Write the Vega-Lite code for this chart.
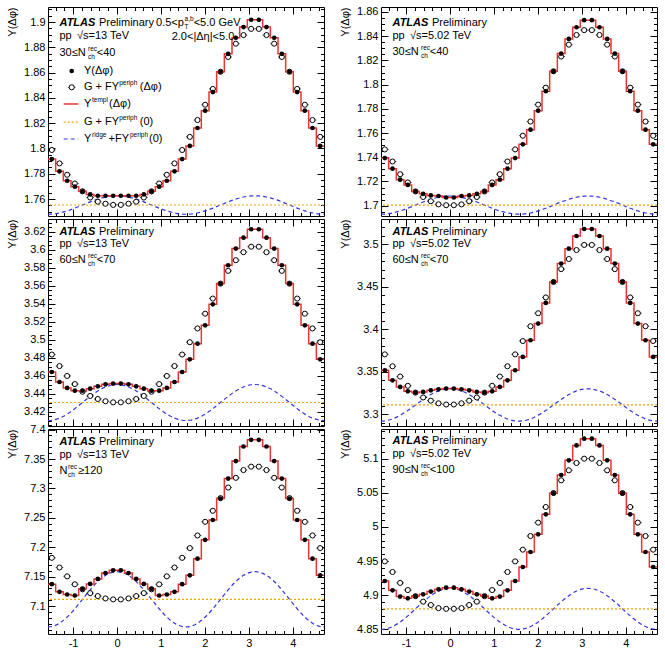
{
"$schema":"https://vega.github.io/schema/vega-lite/v6.json",
"padding":{"left":5,"top":2,"right":5,"bottom":5},
"background":"white",
"config":{"view":{"stroke":"black","strokeWidth":1},
"axis":{"domain":false,"grid":false,"ticks":true,"tickColor":"black","tickWidth":1,"tickSize":7,"tickOpacity":1,"offset":-7,"tickCount":200,"labelColor":"black","labelFont":"Liberation Sans","labelFontSize":11,"titleFont":"Liberation Sans","titleFontSize":11,"titleFontWeight":"normal","titleColor":"black","labelOverlap":false,"labelFlush":false,"labelBound":false,"labelPadding":3},
"text":{"font":"Liberation Sans","fontSize":11,"color":"black"}},
"datasets":{
"TL":[{"x":-1.5708,"y":1.7916,"r":1.748},{"x":-1.4835,"y":1.7916,"g":1.7988,"r":1.7481},{"x":-1.309,"y":1.7819,"g":1.7882,"r":1.749},{"x":-1.1345,"y":1.7745,"g":1.7792,"r":1.7506},{"x":-0.9599,"y":1.7698,"g":1.7723,"r":1.7528},{"x":-0.7854,"y":1.7661,"g":1.7661,"r":1.7553},{"x":-0.6109,"y":1.7637,"g":1.7612,"r":1.7578},{"x":-0.4363,"y":1.7626,"g":1.7579,"r":1.76},{"x":-0.2618,"y":1.7626,"g":1.7563,"r":1.7616},{"x":-0.0873,"y":1.7626,"g":1.7554,"r":1.7625},{"x":0,"r":1.7626},{"x":0.0873,"y":1.7626,"g":1.7554,"r":1.7625},{"x":0.2618,"y":1.7626,"g":1.7563,"r":1.7616},{"x":0.4363,"y":1.7626,"g":1.7579,"r":1.76},{"x":0.6109,"y":1.7637,"g":1.7612,"r":1.7578},{"x":0.7854,"y":1.7661,"g":1.7661,"r":1.7553},{"x":0.9599,"y":1.7698,"g":1.7723,"r":1.7528},{"x":1.1345,"y":1.7745,"g":1.7792,"r":1.7506},{"x":1.309,"y":1.7819,"g":1.7882,"r":1.749},{"x":1.4835,"y":1.7916,"g":1.7988,"r":1.7481},{"x":1.5708,"r":1.748},{"x":1.6581,"y":1.802,"g":1.8092,"r":1.7481},{"x":1.8326,"y":1.8162,"g":1.8225,"r":1.749},{"x":2.0071,"y":1.8299,"g":1.8346,"r":1.7506},{"x":2.1817,"y":1.8446,"g":1.8471,"r":1.7528},{"x":2.3562,"y":1.8607,"g":1.8607,"r":1.7553},{"x":2.5307,"y":1.8749,"g":1.8724,"r":1.7578},{"x":2.7053,"y":1.8876,"g":1.8829,"r":1.76},{"x":2.8798,"y":1.896,"g":1.8897,"r":1.7616},{"x":3.0543,"y":1.9018,"g":1.8946,"r":1.7625},{"x":3.1416,"r":1.7626},{"x":3.2289,"y":1.9018,"g":1.8946,"r":1.7625},{"x":3.4034,"y":1.896,"g":1.8897,"r":1.7616},{"x":3.5779,"y":1.8876,"g":1.8829,"r":1.76},{"x":3.7525,"y":1.8749,"g":1.8724,"r":1.7578},{"x":3.927,"y":1.8607,"g":1.8607,"r":1.7553},{"x":4.1015,"y":1.8446,"g":1.8471,"r":1.7528},{"x":4.2761,"y":1.8299,"g":1.8346,"r":1.7506},{"x":4.4506,"y":1.8162,"g":1.8225,"r":1.749},{"x":4.6251,"y":1.802,"g":1.8092,"r":1.7481},{"x":4.7124,"y":1.802,"r":1.748}],
"TR":[{"x":-1.5708,"y":1.7393,"r":1.693},{"x":-1.4835,"y":1.7393,"g":1.7465,"r":1.6931},{"x":-1.309,"y":1.7306,"g":1.7365,"r":1.694},{"x":-1.1345,"y":1.7215,"g":1.726,"r":1.6957},{"x":-0.9599,"y":1.7172,"g":1.7192,"r":1.6979},{"x":-0.7854,"y":1.7118,"g":1.7118,"r":1.7005},{"x":-0.6109,"y":1.7098,"g":1.7072,"r":1.7031},{"x":-0.4363,"y":1.7085,"g":1.7037,"r":1.7053},{"x":-0.2618,"y":1.708,"g":1.7011,"r":1.707},{"x":-0.0873,"y":1.7068,"g":1.7004,"r":1.7079},{"x":0,"r":1.708},{"x":0.0873,"y":1.7068,"g":1.7004,"r":1.7079},{"x":0.2618,"y":1.708,"g":1.7011,"r":1.707},{"x":0.4363,"y":1.7085,"g":1.7037,"r":1.7053},{"x":0.6109,"y":1.7098,"g":1.7072,"r":1.7031},{"x":0.7854,"y":1.7118,"g":1.7118,"r":1.7005},{"x":0.9599,"y":1.7172,"g":1.7192,"r":1.6979},{"x":1.1345,"y":1.7215,"g":1.726,"r":1.6957},{"x":1.309,"y":1.7306,"g":1.7365,"r":1.694},{"x":1.4835,"y":1.7393,"g":1.7465,"r":1.6931},{"x":1.5708,"r":1.693},{"x":1.6581,"y":1.7507,"g":1.7578,"r":1.6931},{"x":1.8326,"y":1.7628,"g":1.7695,"r":1.694},{"x":2.0071,"y":1.7785,"g":1.7835,"r":1.6957},{"x":2.1817,"y":1.7945,"g":1.7975,"r":1.6979},{"x":2.3562,"y":1.811,"g":1.811,"r":1.7005},{"x":2.5307,"y":1.8256,"g":1.8232,"r":1.7031},{"x":2.7053,"y":1.8377,"g":1.833,"r":1.7053},{"x":2.8798,"y":1.8474,"g":1.841,"r":1.707},{"x":3.0543,"y":1.8532,"g":1.845,"r":1.7079},{"x":3.1416,"r":1.708},{"x":3.2289,"y":1.8532,"g":1.845,"r":1.7079},{"x":3.4034,"y":1.8474,"g":1.841,"r":1.707},{"x":3.5779,"y":1.8377,"g":1.833,"r":1.7053},{"x":3.7525,"y":1.8256,"g":1.8232,"r":1.7031},{"x":3.927,"y":1.811,"g":1.811,"r":1.7005},{"x":4.1015,"y":1.7945,"g":1.7975,"r":1.6979},{"x":4.2761,"y":1.7785,"g":1.7835,"r":1.6957},{"x":4.4506,"y":1.7628,"g":1.7695,"r":1.694},{"x":4.6251,"y":1.7507,"g":1.7578,"r":1.6931},{"x":4.7124,"y":1.7507,"r":1.693}],
"ML":[{"x":-1.5708,"y":3.4644,"r":3.4105},{"x":-1.4835,"y":3.4644,"g":3.4838,"r":3.4108},{"x":-1.309,"y":3.4533,"g":3.471,"r":3.4132},{"x":-1.1345,"y":3.4467,"g":3.46,"r":3.4176},{"x":-0.9599,"y":3.4437,"g":3.451,"r":3.4237},{"x":-0.7854,"y":3.4437,"g":3.4425,"r":3.4305},{"x":-0.6109,"y":3.4459,"g":3.4378,"r":3.4373},{"x":-0.4363,"y":3.4485,"g":3.4344,"r":3.4434},{"x":-0.2618,"y":3.4507,"g":3.4319,"r":3.4478},{"x":-0.0873,"y":3.4515,"g":3.4307,"r":3.4502},{"x":0,"r":3.4505},{"x":0.0873,"y":3.4515,"g":3.4307,"r":3.4502},{"x":0.2618,"y":3.4507,"g":3.4319,"r":3.4478},{"x":0.4363,"y":3.4485,"g":3.4344,"r":3.4434},{"x":0.6109,"y":3.4459,"g":3.4378,"r":3.4373},{"x":0.7854,"y":3.4437,"g":3.4425,"r":3.4305},{"x":0.9599,"y":3.4437,"g":3.451,"r":3.4237},{"x":1.1345,"y":3.4467,"g":3.46,"r":3.4176},{"x":1.309,"y":3.4533,"g":3.471,"r":3.4132},{"x":1.4835,"y":3.4644,"g":3.4838,"r":3.4108},{"x":1.5708,"r":3.4105},{"x":1.6581,"y":3.4785,"g":3.4975,"r":3.4108},{"x":1.8326,"y":3.4959,"g":3.5128,"r":3.4132},{"x":2.0071,"y":3.5163,"g":3.5292,"r":3.4176},{"x":2.1817,"y":3.5396,"g":3.546,"r":3.4237},{"x":2.3562,"y":3.5626,"g":3.5626,"r":3.4305},{"x":2.5307,"y":3.583,"g":3.5768,"r":3.4373},{"x":2.7053,"y":3.6015,"g":3.5886,"r":3.4434},{"x":2.8798,"y":3.6137,"g":3.5975,"r":3.4478},{"x":3.0543,"y":3.623,"g":3.6036,"r":3.4502},{"x":3.1416,"r":3.4505},{"x":3.2289,"y":3.623,"g":3.6036,"r":3.4502},{"x":3.4034,"y":3.6137,"g":3.5975,"r":3.4478},{"x":3.5779,"y":3.6015,"g":3.5886,"r":3.4434},{"x":3.7525,"y":3.583,"g":3.5768,"r":3.4373},{"x":3.927,"y":3.5626,"g":3.5626,"r":3.4305},{"x":4.1015,"y":3.5396,"g":3.546,"r":3.4237},{"x":4.2761,"y":3.5163,"g":3.5292,"r":3.4176},{"x":4.4506,"y":3.4959,"g":3.5128,"r":3.4132},{"x":4.6251,"y":3.4785,"g":3.4975,"r":3.4108},{"x":4.7124,"y":3.4785,"r":3.4105}],
"MR":[{"x":-1.5708,"y":3.3518,"r":3.292},{"x":-1.4835,"y":3.3518,"g":3.3705,"r":3.2923},{"x":-1.309,"y":3.34,"g":3.3565,"r":3.2945},{"x":-1.1345,"y":3.3322,"g":3.3444,"r":3.2988},{"x":-0.9599,"y":3.327,"g":3.3335,"r":3.3045},{"x":-0.7854,"y":3.3255,"g":3.3255,"r":3.311},{"x":-0.6109,"y":3.3263,"g":3.3198,"r":3.3175},{"x":-0.4363,"y":3.3282,"g":3.316,"r":3.3232},{"x":-0.2618,"y":3.3294,"g":3.3129,"r":3.3275},{"x":-0.0873,"y":3.3302,"g":3.3115,"r":3.3297},{"x":0,"r":3.33},{"x":0.0873,"y":3.3302,"g":3.3115,"r":3.3297},{"x":0.2618,"y":3.3294,"g":3.3129,"r":3.3275},{"x":0.4363,"y":3.3282,"g":3.316,"r":3.3232},{"x":0.6109,"y":3.3263,"g":3.3198,"r":3.3175},{"x":0.7854,"y":3.3255,"g":3.3255,"r":3.311},{"x":0.9599,"y":3.327,"g":3.3335,"r":3.3045},{"x":1.1345,"y":3.3322,"g":3.3444,"r":3.2988},{"x":1.309,"y":3.34,"g":3.3565,"r":3.2945},{"x":1.4835,"y":3.3518,"g":3.3705,"r":3.2923},{"x":1.5708,"r":3.292},{"x":1.6581,"y":3.3675,"g":3.3862,"r":3.2923},{"x":1.8326,"y":3.3871,"g":3.4036,"r":3.2945},{"x":2.0071,"y":3.4067,"g":3.4189,"r":3.2988},{"x":2.1817,"y":3.431,"g":3.4375,"r":3.3045},{"x":2.3562,"y":3.4557,"g":3.4557,"r":3.311},{"x":2.5307,"y":3.4773,"g":3.4708,"r":3.3175},{"x":2.7053,"y":3.4949,"g":3.4827,"r":3.3232},{"x":2.8798,"y":3.5098,"g":3.4933,"r":3.3275},{"x":3.0543,"y":3.518,"g":3.4993,"r":3.3297},{"x":3.1416,"r":3.33},{"x":3.2289,"y":3.518,"g":3.4993,"r":3.3297},{"x":3.4034,"y":3.5098,"g":3.4933,"r":3.3275},{"x":3.5779,"y":3.4949,"g":3.4827,"r":3.3232},{"x":3.7525,"y":3.4773,"g":3.4708,"r":3.3175},{"x":3.927,"y":3.4557,"g":3.4557,"r":3.311},{"x":4.1015,"y":3.431,"g":3.4375,"r":3.3045},{"x":4.2761,"y":3.4067,"g":3.4189,"r":3.2988},{"x":4.4506,"y":3.3871,"g":3.4036,"r":3.2945},{"x":4.6251,"y":3.3675,"g":3.3862,"r":3.2923},{"x":4.7124,"y":3.3675,"r":3.292}],
"BL":[{"x":-1.5708,"y":7.1372,"r":7.0645},{"x":-1.4835,"y":7.1372,"g":7.182,"r":7.0652},{"x":-1.309,"y":7.1242,"g":7.1655,"r":7.0708},{"x":-1.1345,"y":7.1197,"g":7.1505,"r":7.0813},{"x":-0.9599,"y":7.118,"g":7.137,"r":7.0954},{"x":-0.7854,"y":7.1293,"g":7.1285,"r":7.1115},{"x":-0.6109,"y":7.1377,"g":7.122,"r":7.1276},{"x":-0.4363,"y":7.1462,"g":7.117,"r":7.1417},{"x":-0.2618,"y":7.156,"g":7.113,"r":7.1522},{"x":-0.0873,"y":7.1608,"g":7.1113,"r":7.1578},{"x":0,"r":7.1585},{"x":0.0873,"y":7.1608,"g":7.1113,"r":7.1578},{"x":0.2618,"y":7.156,"g":7.113,"r":7.1522},{"x":0.4363,"y":7.1462,"g":7.117,"r":7.1417},{"x":0.6109,"y":7.1377,"g":7.122,"r":7.1276},{"x":0.7854,"y":7.1293,"g":7.1285,"r":7.1115},{"x":0.9599,"y":7.118,"g":7.137,"r":7.0954},{"x":1.1345,"y":7.1197,"g":7.1505,"r":7.0813},{"x":1.309,"y":7.1242,"g":7.1655,"r":7.0708},{"x":1.4835,"y":7.1372,"g":7.182,"r":7.0652},{"x":1.5708,"r":7.0645},{"x":1.6581,"y":7.1523,"g":7.1985,"r":7.0652},{"x":1.8326,"y":7.1805,"g":7.22,"r":7.0708},{"x":2.0071,"y":7.2126,"g":7.2432,"r":7.0813},{"x":2.1817,"y":7.2463,"g":7.262,"r":7.0954},{"x":2.3562,"y":7.2829,"g":7.2835,"r":7.1115},{"x":2.5307,"y":7.3167,"g":7.3015,"r":7.1276},{"x":2.7053,"y":7.3465,"g":7.318,"r":7.1417},{"x":2.8798,"y":7.3713,"g":7.3312,"r":7.1522},{"x":3.0543,"y":7.3826,"g":7.337,"r":7.1578},{"x":3.1416,"r":7.1585},{"x":3.2289,"y":7.3826,"g":7.337,"r":7.1578},{"x":3.4034,"y":7.3713,"g":7.3312,"r":7.1522},{"x":3.5779,"y":7.3465,"g":7.318,"r":7.1417},{"x":3.7525,"y":7.3167,"g":7.3015,"r":7.1276},{"x":3.927,"y":7.2829,"g":7.2835,"r":7.1115},{"x":4.1015,"y":7.2463,"g":7.262,"r":7.0954},{"x":4.2761,"y":7.2126,"g":7.2432,"r":7.0813},{"x":4.4506,"y":7.1805,"g":7.22,"r":7.0708},{"x":4.6251,"y":7.1523,"g":7.1985,"r":7.0652},{"x":4.7124,"y":7.1523,"r":7.0645}],
"BR":[{"x":-1.5708,"y":4.9208,"r":4.85},{"x":-1.4835,"y":4.9208,"g":4.9495,"r":4.8504},{"x":-1.309,"y":4.9071,"g":4.934,"r":4.854},{"x":-1.1345,"y":4.8979,"g":4.918,"r":4.8607},{"x":-0.9599,"y":4.8954,"g":4.9075,"r":4.8697},{"x":-0.7854,"y":4.8988,"g":4.8985,"r":4.88},{"x":-0.6109,"y":4.9013,"g":4.8905,"r":4.8903},{"x":-0.4363,"y":4.9052,"g":4.8856,"r":4.8993},{"x":-0.2618,"y":4.9086,"g":4.881,"r":4.906},{"x":-0.0873,"y":4.911,"g":4.88,"r":4.9096},{"x":0,"r":4.91},{"x":0.0873,"y":4.911,"g":4.88,"r":4.9096},{"x":0.2618,"y":4.9086,"g":4.881,"r":4.906},{"x":0.4363,"y":4.9052,"g":4.8856,"r":4.8993},{"x":0.6109,"y":4.9013,"g":4.8905,"r":4.8903},{"x":0.7854,"y":4.8988,"g":4.8985,"r":4.88},{"x":0.9599,"y":4.8954,"g":4.9075,"r":4.8697},{"x":1.1345,"y":4.8979,"g":4.918,"r":4.8607},{"x":1.309,"y":4.9071,"g":4.934,"r":4.854},{"x":1.4835,"y":4.9208,"g":4.9495,"r":4.8504},{"x":1.5708,"r":4.85},{"x":1.6581,"y":4.9413,"g":4.9667,"r":4.8504},{"x":1.8326,"y":4.9633,"g":4.9867,"r":4.854},{"x":2.0071,"y":4.9892,"g":5.0063,"r":4.8607},{"x":2.1817,"y":5.0185,"g":5.0292,"r":4.8697},{"x":2.3562,"y":5.0492,"g":5.0497,"r":4.88},{"x":2.5307,"y":5.0761,"g":5.0683,"r":4.8903},{"x":2.7053,"y":5.0976,"g":5.0829,"r":4.8993},{"x":2.8798,"y":5.1195,"g":5.0937,"r":4.906},{"x":3.0543,"y":5.1293,"g":5.1,"r":4.9096},{"x":3.1416,"r":4.91},{"x":3.2289,"y":5.1293,"g":5.1,"r":4.9096},{"x":3.4034,"y":5.1195,"g":5.0937,"r":4.906},{"x":3.5779,"y":5.0976,"g":5.0829,"r":4.8993},{"x":3.7525,"y":5.0761,"g":5.0683,"r":4.8903},{"x":3.927,"y":5.0492,"g":5.0497,"r":4.88},{"x":4.1015,"y":5.0185,"g":5.0292,"r":4.8697},{"x":4.2761,"y":4.9892,"g":5.0063,"r":4.8607},{"x":4.4506,"y":4.9633,"g":4.9867,"r":4.854},{"x":4.6251,"y":4.9413,"g":4.9667,"r":4.8504},{"x":4.7124,"y":4.9413,"r":4.85}]
},
"columns":2,
"spacing":{"row":3,"column":57},
"bounds":"flush",
"concat":[
{"width":276,"height":209,"data":{"name":"TL"},
"layer":[
{"transform":[{"filter":"isValid(datum.r)"}],"mark":{"type":"line","interpolate":"monotone","stroke":"#3535e0","strokeWidth":1.2,"strokeDash":[4,3],"clip":true},
"encoding":{"x":{"field":"x","type":"quantitative","scale":{"domain":[-1.5708,4.7124],"nice":false,"zero":false},"axis":{"orient":"top","labels":false,"title":null,"offset":-7,"tickCount":200,"labelOverlap":false,"values":[-1.4,-1.2,-1,-0.8,-0.6,-0.4,-0.2,0,0.2,0.4,0.6,0.8,1,1.2,1.4,1.6,1.8,2,2.2,2.4,2.6,2.8,3,3.2,3.4,3.6,3.8,4,4.2,4.4,4.6],"tickDash":{"condition":{"test":"abs(datum.value-round(datum.value))<0.001","value":[7,0]},"value":[0,3.5,3.5,20]}}},
"y":{"field":"r","type":"quantitative","scale":{"domain":[1.7466,1.9119],"nice":false,"zero":false},"axis":{"orient":"right","labels":false,"title":null,"offset":-7,"tickCount":200,"labelOverlap":false,"values":[1.75,1.755,1.76,1.765,1.77,1.775,1.78,1.785,1.79,1.795,1.8,1.805,1.81,1.815,1.82,1.825,1.83,1.835,1.84,1.845,1.85,1.855,1.86,1.865,1.87,1.875,1.88,1.885,1.89,1.895,1.9,1.905,1.91],"tickDash":{"condition":{"test":"abs(datum.value*50-round(datum.value*50))<0.01","value":[7,0]},"value":[0,3.5,3.5,20]}}}}},
{"layer":[
{"data":{"values":[{}]},"mark":{"type":"rule","stroke":"#f5a300","strokeWidth":1.2,"strokeDash":[2,2]},"encoding":{"y":{"datum":1.7553,"type":"quantitative"}}},
{"transform":[{"filter":"isValid(datum.g)"}],"mark":{"type":"tick","orient":"horizontal","size":7.6,"thickness":1,"color":"black"},"encoding":{"x":{"field":"x","type":"quantitative"},"y":{"field":"g","type":"quantitative"}}},
{"transform":[{"filter":"isValid(datum.g)"}],"mark":{"type":"point","shape":"circle","size":26,"filled":true,"fill":"white","stroke":"black","strokeWidth":1,"opacity":1},"encoding":{"x":{"field":"x","type":"quantitative"},"y":{"field":"g","type":"quantitative"}}},
{"transform":[{"filter":"isValid(datum.y)"}],"mark":{"type":"line","interpolate":"step","stroke":"#ee3333","strokeWidth":1.5,"clip":true},
"encoding":{"x":{"field":"x","type":"quantitative","axis":{"orient":"bottom","labels":false,"title":null,"offset":-7,"tickCount":200,"labelOverlap":false,"values":[-1.4,-1.2,-1,-0.8,-0.6,-0.4,-0.2,0,0.2,0.4,0.6,0.8,1,1.2,1.4,1.6,1.8,2,2.2,2.4,2.6,2.8,3,3.2,3.4,3.6,3.8,4,4.2,4.4,4.6],"tickDash":{"condition":{"test":"abs(datum.value-round(datum.value))<0.001","value":[7,0]},"value":[0,3.5,3.5,20]}}},
"y":{"field":"y","type":"quantitative","axis":{"orient":"left","title":"Y(Δφ)","titleAnchor":"end","titlePadding":5,"minExtent":33,"maxExtent":33,"offset":-7,"tickCount":200,"labelOverlap":false,"values":[1.75,1.755,1.76,1.765,1.77,1.775,1.78,1.785,1.79,1.795,1.8,1.805,1.81,1.815,1.82,1.825,1.83,1.835,1.84,1.845,1.85,1.855,1.86,1.865,1.87,1.875,1.88,1.885,1.89,1.895,1.9,1.905,1.91],"labelExpr":"abs(datum.value*50-round(datum.value*50))<0.01?''+datum.value:''","tickDash":{"condition":{"test":"abs(datum.value*50-round(datum.value*50))<0.01","value":[7,0]},"value":[0,3.5,3.5,20]}}}}},
{"transform":[{"filter":"isValid(datum.g)"}],"mark":{"type":"point","shape":"circle","size":22,"filled":true,"color":"black","opacity":1},"encoding":{"x":{"field":"x","type":"quantitative"},"y":{"field":"y","type":"quantitative"}}},
{"data":{"values":[{}]},"mark":{"type":"text","text":"ATLAS","align":"left","baseline":"middle","fontStyle":"italic","fontWeight":"bold"},"encoding":{"x":{"datum":-1.309,"type":"quantitative"},"y":{"datum":1.8992,"type":"quantitative"}}},
{"data":{"values":[{}]},"mark":{"type":"text","text":"Preliminary","align":"left","baseline":"middle"},"encoding":{"x":{"datum":-0.41,"type":"quantitative"},"y":{"datum":1.8992,"type":"quantitative"}}},
{"data":{"values":[{}]},"mark":{"type":"text","text":"pp","align":"left","baseline":"middle"},"encoding":{"x":{"datum":-1.309,"type":"quantitative"},"y":{"datum":1.8887,"type":"quantitative"}}},
{"data":{"values":[{}]},"mark":{"type":"text","text":"√s=13 TeV","align":"left","baseline":"middle"},"encoding":{"x":{"datum":-0.911,"type":"quantitative"},"y":{"datum":1.8887,"type":"quantitative"}}},
{"data":{"values":[{}]},"mark":{"type":"text","text":"30≤N","align":"left","baseline":"middle"},"encoding":{"x":{"datum":-1.309,"type":"quantitative"},"y":{"datum":1.8755,"type":"quantitative"}}},
{"data":{"values":[{}]},"mark":{"type":"text","text":"rec","align":"left","baseline":"middle","fontSize":6.5,"dy":-4},"encoding":{"x":{"datum":-0.66,"type":"quantitative"},"y":{"datum":1.8755,"type":"quantitative"}}},
{"data":{"values":[{}]},"mark":{"type":"text","text":"ch","align":"left","baseline":"middle","fontSize":6.5,"dy":4},"encoding":{"x":{"datum":-0.66,"type":"quantitative"},"y":{"datum":1.8755,"type":"quantitative"}}},
{"data":{"values":[{}]},"mark":{"type":"text","text":"<40","align":"left","baseline":"middle"},"encoding":{"x":{"datum":-0.46,"type":"quantitative"},"y":{"datum":1.8755,"type":"quantitative"}}},
{"data":{"values":[{}]},"mark":{"type":"text","text":"0.5<p","align":"left","baseline":"middle"},"encoding":{"x":{"datum":0.888,"type":"quantitative"},"y":{"datum":1.8992,"type":"quantitative"}}},
{"data":{"values":[{}]},"mark":{"type":"text","text":"a,b","align":"left","baseline":"middle","fontSize":6.5,"dy":-4},"encoding":{"x":{"datum":1.537,"type":"quantitative"},"y":{"datum":1.8992,"type":"quantitative"}}},
{"data":{"values":[{}]},"mark":{"type":"text","text":"T","align":"left","baseline":"middle","fontSize":6.5,"dy":4},"encoding":{"x":{"datum":1.537,"type":"quantitative"},"y":{"datum":1.8992,"type":"quantitative"}}},
{"data":{"values":[{}]},"mark":{"type":"text","text":"<5.0 GeV","align":"left","baseline":"middle"},"encoding":{"x":{"datum":1.746,"type":"quantitative"},"y":{"datum":1.8992,"type":"quantitative"}}},
{"data":{"values":[{}]},"mark":{"type":"text","text":"2.0<|Δη|<5.0","align":"left","baseline":"middle"},"encoding":{"x":{"datum":1.245,"type":"quantitative"},"y":{"datum":1.8879,"type":"quantitative"}}},
{"data":{"values":[{}]},"mark":{"type":"point","shape":"circle","size":22,"filled":true,"color":"black","opacity":1},"encoding":{"x":{"datum":-1.0313,"type":"quantitative"},"y":{"datum":1.8613,"type":"quantitative"}}},
{"data":{"values":[{}]},"mark":{"type":"tick","orient":"horizontal","size":7.6,"thickness":1,"color":"black"},"encoding":{"x":{"datum":-1.0313,"type":"quantitative"},"y":{"datum":1.8484,"type":"quantitative"}}},
{"data":{"values":[{}]},"mark":{"type":"point","shape":"circle","size":26,"filled":true,"fill":"white","stroke":"black","strokeWidth":1,"opacity":1},"encoding":{"x":{"datum":-1.0313,"type":"quantitative"},"y":{"datum":1.8484,"type":"quantitative"}}},
{"data":{"values":[{}]},"mark":{"type":"rule","stroke":"#ee3333","strokeWidth":1.5},"encoding":{"x":{"datum":-1.2134,"type":"quantitative"},"x2":{"datum":-0.881},"y":{"datum":1.8352,"type":"quantitative"}}},
{"data":{"values":[{}]},"mark":{"type":"rule","stroke":"#f5a300","strokeWidth":1.2,"strokeDash":[2,2]},"encoding":{"x":{"datum":-1.2134,"type":"quantitative"},"x2":{"datum":-0.881},"y":{"datum":1.8209,"type":"quantitative"}}},
{"data":{"values":[{}]},"mark":{"type":"rule","stroke":"#3535e0","strokeWidth":1.2,"strokeDash":[4,3]},"encoding":{"x":{"datum":-1.2134,"type":"quantitative"},"x2":{"datum":-0.881},"y":{"datum":1.8075,"type":"quantitative"}}},
{"data":{"values":[{}]},"mark":{"type":"text","text":"Y(Δφ)","align":"left","baseline":"middle"},"encoding":{"x":{"datum":-0.7512,"type":"quantitative"},"y":{"datum":1.8613,"type":"quantitative"}}},
{"data":{"values":[{}]},"mark":{"type":"text","text":"G + FY","align":"left","baseline":"middle"},"encoding":{"x":{"datum":-0.7512,"type":"quantitative"},"y":{"datum":1.8484,"type":"quantitative"}}},
{"data":{"values":[{}]},"mark":{"type":"text","text":"periph","align":"left","baseline":"middle","fontSize":6.5,"dy":-4},"encoding":{"x":{"datum":0.05,"type":"quantitative"},"y":{"datum":1.8484,"type":"quantitative"}}},
{"data":{"values":[{}]},"mark":{"type":"text","text":"(Δφ)","align":"left","baseline":"middle"},"encoding":{"x":{"datum":0.52,"type":"quantitative"},"y":{"datum":1.8484,"type":"quantitative"}}},
{"data":{"values":[{}]},"mark":{"type":"text","text":"Y","align":"left","baseline":"middle"},"encoding":{"x":{"datum":-0.7512,"type":"quantitative"},"y":{"datum":1.8352,"type":"quantitative"}}},
{"data":{"values":[{}]},"mark":{"type":"text","text":"templ","align":"left","baseline":"middle","fontSize":6.5,"dy":-4},"encoding":{"x":{"datum":-0.569,"type":"quantitative"},"y":{"datum":1.8352,"type":"quantitative"}}},
{"data":{"values":[{}]},"mark":{"type":"text","text":"(Δφ)","align":"left","baseline":"middle"},"encoding":{"x":{"datum":-0.182,"type":"quantitative"},"y":{"datum":1.8352,"type":"quantitative"}}},
{"data":{"values":[{}]},"mark":{"type":"text","text":"G + FY","align":"left","baseline":"middle"},"encoding":{"x":{"datum":-0.7512,"type":"quantitative"},"y":{"datum":1.8209,"type":"quantitative"}}},
{"data":{"values":[{}]},"mark":{"type":"text","text":"periph","align":"left","baseline":"middle","fontSize":6.5,"dy":-4},"encoding":{"x":{"datum":0.05,"type":"quantitative"},"y":{"datum":1.8209,"type":"quantitative"}}},
{"data":{"values":[{}]},"mark":{"type":"text","text":"(0)","align":"left","baseline":"middle"},"encoding":{"x":{"datum":0.52,"type":"quantitative"},"y":{"datum":1.8209,"type":"quantitative"}}},
{"data":{"values":[{}]},"mark":{"type":"text","text":"Y","align":"left","baseline":"middle"},"encoding":{"x":{"datum":-0.7512,"type":"quantitative"},"y":{"datum":1.8075,"type":"quantitative"}}},
{"data":{"values":[{}]},"mark":{"type":"text","text":"ridge","align":"left","baseline":"middle","fontSize":6.5,"dy":-4},"encoding":{"x":{"datum":-0.569,"type":"quantitative"},"y":{"datum":1.8075,"type":"quantitative"}}},
{"data":{"values":[{}]},"mark":{"type":"text","text":"+FY","align":"left","baseline":"middle"},"encoding":{"x":{"datum":-0.1935,"type":"quantitative"},"y":{"datum":1.8075,"type":"quantitative"}}},
{"data":{"values":[{}]},"mark":{"type":"text","text":"periph","align":"left","baseline":"middle","fontSize":6.5,"dy":-4},"encoding":{"x":{"datum":0.296,"type":"quantitative"},"y":{"datum":1.8075,"type":"quantitative"}}},
{"data":{"values":[{}]},"mark":{"type":"text","text":"(0)","align":"left","baseline":"middle"},"encoding":{"x":{"datum":0.7285,"type":"quantitative"},"y":{"datum":1.8075,"type":"quantitative"}}}
]}],
"resolve":{"axis":{"x":"independent","y":"independent"}}},

{"width":276,"height":209,"data":{"name":"TR"},
"layer":[
{"transform":[{"filter":"isValid(datum.r)"}],"mark":{"type":"line","interpolate":"monotone","stroke":"#3535e0","strokeWidth":1.2,"strokeDash":[4,3],"clip":true},
"encoding":{"x":{"field":"x","type":"quantitative","scale":{"domain":[-1.5708,4.7124],"nice":false,"zero":false},"axis":{"orient":"top","labels":false,"title":null,"offset":-7,"tickCount":200,"labelOverlap":false,"values":[-1.4,-1.2,-1,-0.8,-0.6,-0.4,-0.2,0,0.2,0.4,0.6,0.8,1,1.2,1.4,1.6,1.8,2,2.2,2.4,2.6,2.8,3,3.2,3.4,3.6,3.8,4,4.2,4.4,4.6],"tickDash":{"condition":{"test":"abs(datum.value-round(datum.value))<0.001","value":[7,0]},"value":[0,3.5,3.5,20]}}},
"y":{"field":"r","type":"quantitative","scale":{"domain":[1.6915,1.8641],"nice":false,"zero":false},"axis":{"orient":"right","labels":false,"title":null,"offset":-7,"tickCount":200,"labelOverlap":false,"values":[1.695,1.7,1.705,1.71,1.715,1.72,1.725,1.73,1.735,1.74,1.745,1.75,1.755,1.76,1.765,1.77,1.775,1.78,1.785,1.79,1.795,1.8,1.805,1.81,1.815,1.82,1.825,1.83,1.835,1.84,1.845,1.85,1.855,1.86],"tickDash":{"condition":{"test":"abs(datum.value*50-round(datum.value*50))<0.01","value":[7,0]},"value":[0,3.5,3.5,20]}}}}},
{"layer":[
{"data":{"values":[{}]},"mark":{"type":"rule","stroke":"#f5a300","strokeWidth":1.2,"strokeDash":[2,2]},"encoding":{"y":{"datum":1.7005,"type":"quantitative"}}},
{"transform":[{"filter":"isValid(datum.g)"}],"mark":{"type":"tick","orient":"horizontal","size":7.6,"thickness":1,"color":"black"},"encoding":{"x":{"field":"x","type":"quantitative"},"y":{"field":"g","type":"quantitative"}}},
{"transform":[{"filter":"isValid(datum.g)"}],"mark":{"type":"point","shape":"circle","size":26,"filled":true,"fill":"white","stroke":"black","strokeWidth":1,"opacity":1},"encoding":{"x":{"field":"x","type":"quantitative"},"y":{"field":"g","type":"quantitative"}}},
{"transform":[{"filter":"isValid(datum.y)"}],"mark":{"type":"line","interpolate":"step","stroke":"#ee3333","strokeWidth":1.5,"clip":true},
"encoding":{"x":{"field":"x","type":"quantitative","axis":{"orient":"bottom","labels":false,"title":null,"offset":-7,"tickCount":200,"labelOverlap":false,"values":[-1.4,-1.2,-1,-0.8,-0.6,-0.4,-0.2,0,0.2,0.4,0.6,0.8,1,1.2,1.4,1.6,1.8,2,2.2,2.4,2.6,2.8,3,3.2,3.4,3.6,3.8,4,4.2,4.4,4.6],"tickDash":{"condition":{"test":"abs(datum.value-round(datum.value))<0.001","value":[7,0]},"value":[0,3.5,3.5,20]}}},
"y":{"field":"y","type":"quantitative","axis":{"orient":"left","title":"Y(Δφ)","titleAnchor":"end","titlePadding":5,"minExtent":33,"maxExtent":33,"offset":-7,"tickCount":200,"labelOverlap":false,"values":[1.695,1.7,1.705,1.71,1.715,1.72,1.725,1.73,1.735,1.74,1.745,1.75,1.755,1.76,1.765,1.77,1.775,1.78,1.785,1.79,1.795,1.8,1.805,1.81,1.815,1.82,1.825,1.83,1.835,1.84,1.845,1.85,1.855,1.86],"labelExpr":"abs(datum.value*50-round(datum.value*50))<0.01?''+datum.value:''","tickDash":{"condition":{"test":"abs(datum.value*50-round(datum.value*50))<0.01","value":[7,0]},"value":[0,3.5,3.5,20]}}}}},
{"transform":[{"filter":"isValid(datum.g)"}],"mark":{"type":"point","shape":"circle","size":22,"filled":true,"color":"black","opacity":1},"encoding":{"x":{"field":"x","type":"quantitative"},"y":{"field":"y","type":"quantitative"}}},
{"data":{"values":[{}]},"mark":{"type":"text","text":"ATLAS","align":"left","baseline":"middle","fontStyle":"italic","fontWeight":"bold"},"encoding":{"x":{"datum":-1.309,"type":"quantitative"},"y":{"datum":1.8509,"type":"quantitative"}}},
{"data":{"values":[{}]},"mark":{"type":"text","text":"Preliminary","align":"left","baseline":"middle"},"encoding":{"x":{"datum":-0.41,"type":"quantitative"},"y":{"datum":1.8509,"type":"quantitative"}}},
{"data":{"values":[{}]},"mark":{"type":"text","text":"pp","align":"left","baseline":"middle"},"encoding":{"x":{"datum":-1.309,"type":"quantitative"},"y":{"datum":1.8399,"type":"quantitative"}}},
{"data":{"values":[{}]},"mark":{"type":"text","text":"√s=5.02 TeV","align":"left","baseline":"middle"},"encoding":{"x":{"datum":-0.911,"type":"quantitative"},"y":{"datum":1.8399,"type":"quantitative"}}},
{"data":{"values":[{}]},"mark":{"type":"text","text":"30≤N","align":"left","baseline":"middle"},"encoding":{"x":{"datum":-1.309,"type":"quantitative"},"y":{"datum":1.8267,"type":"quantitative"}}},
{"data":{"values":[{}]},"mark":{"type":"text","text":"rec","align":"left","baseline":"middle","fontSize":6.5,"dy":-4},"encoding":{"x":{"datum":-0.66,"type":"quantitative"},"y":{"datum":1.8267,"type":"quantitative"}}},
{"data":{"values":[{}]},"mark":{"type":"text","text":"ch","align":"left","baseline":"middle","fontSize":6.5,"dy":4},"encoding":{"x":{"datum":-0.66,"type":"quantitative"},"y":{"datum":1.8267,"type":"quantitative"}}},
{"data":{"values":[{}]},"mark":{"type":"text","text":"<40","align":"left","baseline":"middle"},"encoding":{"x":{"datum":-0.46,"type":"quantitative"},"y":{"datum":1.8267,"type":"quantitative"}}}
]}],
"resolve":{"axis":{"x":"independent","y":"independent"}}},

{"width":276,"height":207,"data":{"name":"ML"},
"layer":[
{"transform":[{"filter":"isValid(datum.r)"}],"mark":{"type":"line","interpolate":"monotone","stroke":"#3535e0","strokeWidth":1.2,"strokeDash":[4,3],"clip":true},
"encoding":{"x":{"field":"x","type":"quantitative","scale":{"domain":[-1.5708,4.7124],"nice":false,"zero":false},"axis":{"orient":"top","labels":false,"title":null,"offset":-7,"tickCount":200,"labelOverlap":false,"values":[-1.4,-1.2,-1,-0.8,-0.6,-0.4,-0.2,0,0.2,0.4,0.6,0.8,1,1.2,1.4,1.6,1.8,2,2.2,2.4,2.6,2.8,3,3.2,3.4,3.6,3.8,4,4.2,4.4,4.6],"tickDash":{"condition":{"test":"abs(datum.value-round(datum.value))<0.001","value":[7,0]},"value":[0,3.5,3.5,20]}}},
"y":{"field":"r","type":"quantitative","scale":{"domain":[3.4044,3.6344],"nice":false,"zero":false},"axis":{"orient":"right","labels":false,"title":null,"offset":-7,"tickCount":200,"labelOverlap":false,"values":[3.405,3.41,3.415,3.42,3.425,3.43,3.435,3.44,3.445,3.45,3.455,3.46,3.465,3.47,3.475,3.48,3.485,3.49,3.495,3.5,3.505,3.51,3.515,3.52,3.525,3.53,3.535,3.54,3.545,3.55,3.555,3.56,3.565,3.57,3.575,3.58,3.585,3.59,3.595,3.6,3.605,3.61,3.615,3.62,3.625,3.63],"tickDash":{"condition":{"test":"abs(datum.value*50-round(datum.value*50))<0.01","value":[7,0]},"value":[0,3.5,3.5,20]}}}}},
{"layer":[
{"data":{"values":[{}]},"mark":{"type":"rule","stroke":"#f5a300","strokeWidth":1.2,"strokeDash":[2,2]},"encoding":{"y":{"datum":3.4305,"type":"quantitative"}}},
{"transform":[{"filter":"isValid(datum.g)"}],"mark":{"type":"tick","orient":"horizontal","size":7.6,"thickness":1,"color":"black"},"encoding":{"x":{"field":"x","type":"quantitative"},"y":{"field":"g","type":"quantitative"}}},
{"transform":[{"filter":"isValid(datum.g)"}],"mark":{"type":"point","shape":"circle","size":26,"filled":true,"fill":"white","stroke":"black","strokeWidth":1,"opacity":1},"encoding":{"x":{"field":"x","type":"quantitative"},"y":{"field":"g","type":"quantitative"}}},
{"transform":[{"filter":"isValid(datum.y)"}],"mark":{"type":"line","interpolate":"step","stroke":"#ee3333","strokeWidth":1.5,"clip":true},
"encoding":{"x":{"field":"x","type":"quantitative","axis":{"orient":"bottom","labels":false,"title":null,"offset":-7,"tickCount":200,"labelOverlap":false,"values":[-1.4,-1.2,-1,-0.8,-0.6,-0.4,-0.2,0,0.2,0.4,0.6,0.8,1,1.2,1.4,1.6,1.8,2,2.2,2.4,2.6,2.8,3,3.2,3.4,3.6,3.8,4,4.2,4.4,4.6],"tickDash":{"condition":{"test":"abs(datum.value-round(datum.value))<0.001","value":[7,0]},"value":[0,3.5,3.5,20]}}},
"y":{"field":"y","type":"quantitative","axis":{"orient":"left","title":"Y(Δφ)","titleAnchor":"end","titlePadding":5,"minExtent":33,"maxExtent":33,"offset":-7,"tickCount":200,"labelOverlap":false,"values":[3.405,3.41,3.415,3.42,3.425,3.43,3.435,3.44,3.445,3.45,3.455,3.46,3.465,3.47,3.475,3.48,3.485,3.49,3.495,3.5,3.505,3.51,3.515,3.52,3.525,3.53,3.535,3.54,3.545,3.55,3.555,3.56,3.565,3.57,3.575,3.58,3.585,3.59,3.595,3.6,3.605,3.61,3.615,3.62,3.625,3.63],"labelExpr":"abs(datum.value*50-round(datum.value*50))<0.01?''+datum.value:''","tickDash":{"condition":{"test":"abs(datum.value*50-round(datum.value*50))<0.01","value":[7,0]},"value":[0,3.5,3.5,20]}}}}},
{"transform":[{"filter":"isValid(datum.g)"}],"mark":{"type":"point","shape":"circle","size":22,"filled":true,"color":"black","opacity":1},"encoding":{"x":{"field":"x","type":"quantitative"},"y":{"field":"y","type":"quantitative"}}},
{"data":{"values":[{}]},"mark":{"type":"text","text":"ATLAS","align":"left","baseline":"middle","fontStyle":"italic","fontWeight":"bold"},"encoding":{"x":{"datum":-1.309,"type":"quantitative"},"y":{"datum":3.62,"type":"quantitative"}}},
{"data":{"values":[{}]},"mark":{"type":"text","text":"Preliminary","align":"left","baseline":"middle"},"encoding":{"x":{"datum":-0.41,"type":"quantitative"},"y":{"datum":3.62,"type":"quantitative"}}},
{"data":{"values":[{}]},"mark":{"type":"text","text":"pp","align":"left","baseline":"middle"},"encoding":{"x":{"datum":-1.309,"type":"quantitative"},"y":{"datum":3.6063,"type":"quantitative"}}},
{"data":{"values":[{}]},"mark":{"type":"text","text":"√s=13 TeV","align":"left","baseline":"middle"},"encoding":{"x":{"datum":-0.911,"type":"quantitative"},"y":{"datum":3.6063,"type":"quantitative"}}},
{"data":{"values":[{}]},"mark":{"type":"text","text":"60≤N","align":"left","baseline":"middle"},"encoding":{"x":{"datum":-1.309,"type":"quantitative"},"y":{"datum":3.5885,"type":"quantitative"}}},
{"data":{"values":[{}]},"mark":{"type":"text","text":"rec","align":"left","baseline":"middle","fontSize":6.5,"dy":-4},"encoding":{"x":{"datum":-0.66,"type":"quantitative"},"y":{"datum":3.5885,"type":"quantitative"}}},
{"data":{"values":[{}]},"mark":{"type":"text","text":"ch","align":"left","baseline":"middle","fontSize":6.5,"dy":4},"encoding":{"x":{"datum":-0.66,"type":"quantitative"},"y":{"datum":3.5885,"type":"quantitative"}}},
{"data":{"values":[{}]},"mark":{"type":"text","text":"<70","align":"left","baseline":"middle"},"encoding":{"x":{"datum":-0.46,"type":"quantitative"},"y":{"datum":3.5885,"type":"quantitative"}}}
]}],
"resolve":{"axis":{"x":"independent","y":"independent"}}},

{"width":276,"height":207,"data":{"name":"MR"},
"layer":[
{"transform":[{"filter":"isValid(datum.r)"}],"mark":{"type":"line","interpolate":"monotone","stroke":"#3535e0","strokeWidth":1.2,"strokeDash":[4,3],"clip":true},
"encoding":{"x":{"field":"x","type":"quantitative","scale":{"domain":[-1.5708,4.7124],"nice":false,"zero":false},"axis":{"orient":"top","labels":false,"title":null,"offset":-7,"tickCount":200,"labelOverlap":false,"values":[-1.4,-1.2,-1,-0.8,-0.6,-0.4,-0.2,0,0.2,0.4,0.6,0.8,1,1.2,1.4,1.6,1.8,2,2.2,2.4,2.6,2.8,3,3.2,3.4,3.6,3.8,4,4.2,4.4,4.6],"tickDash":{"condition":{"test":"abs(datum.value-round(datum.value))<0.001","value":[7,0]},"value":[0,3.5,3.5,20]}}},
"y":{"field":"r","type":"quantitative","scale":{"domain":[3.2862,3.5298],"nice":false,"zero":false},"axis":{"orient":"right","labels":false,"title":null,"offset":-7,"tickCount":200,"labelOverlap":false,"values":[3.29,3.3,3.31,3.32,3.33,3.34,3.35,3.36,3.37,3.38,3.39,3.4,3.41,3.42,3.43,3.44,3.45,3.46,3.47,3.48,3.49,3.5,3.51,3.52],"tickDash":{"condition":{"test":"abs(datum.value*20-round(datum.value*20))<0.01","value":[7,0]},"value":[0,3.5,3.5,20]}}}}},
{"layer":[
{"data":{"values":[{}]},"mark":{"type":"rule","stroke":"#f5a300","strokeWidth":1.2,"strokeDash":[2,2]},"encoding":{"y":{"datum":3.311,"type":"quantitative"}}},
{"transform":[{"filter":"isValid(datum.g)"}],"mark":{"type":"tick","orient":"horizontal","size":7.6,"thickness":1,"color":"black"},"encoding":{"x":{"field":"x","type":"quantitative"},"y":{"field":"g","type":"quantitative"}}},
{"transform":[{"filter":"isValid(datum.g)"}],"mark":{"type":"point","shape":"circle","size":26,"filled":true,"fill":"white","stroke":"black","strokeWidth":1,"opacity":1},"encoding":{"x":{"field":"x","type":"quantitative"},"y":{"field":"g","type":"quantitative"}}},
{"transform":[{"filter":"isValid(datum.y)"}],"mark":{"type":"line","interpolate":"step","stroke":"#ee3333","strokeWidth":1.5,"clip":true},
"encoding":{"x":{"field":"x","type":"quantitative","axis":{"orient":"bottom","labels":false,"title":null,"offset":-7,"tickCount":200,"labelOverlap":false,"values":[-1.4,-1.2,-1,-0.8,-0.6,-0.4,-0.2,0,0.2,0.4,0.6,0.8,1,1.2,1.4,1.6,1.8,2,2.2,2.4,2.6,2.8,3,3.2,3.4,3.6,3.8,4,4.2,4.4,4.6],"tickDash":{"condition":{"test":"abs(datum.value-round(datum.value))<0.001","value":[7,0]},"value":[0,3.5,3.5,20]}}},
"y":{"field":"y","type":"quantitative","axis":{"orient":"left","title":"Y(Δφ)","titleAnchor":"end","titlePadding":5,"minExtent":33,"maxExtent":33,"offset":-7,"tickCount":200,"labelOverlap":false,"values":[3.29,3.3,3.31,3.32,3.33,3.34,3.35,3.36,3.37,3.38,3.39,3.4,3.41,3.42,3.43,3.44,3.45,3.46,3.47,3.48,3.49,3.5,3.51,3.52],"labelExpr":"abs(datum.value*20-round(datum.value*20))<0.01?''+datum.value:''","tickDash":{"condition":{"test":"abs(datum.value*20-round(datum.value*20))<0.01","value":[7,0]},"value":[0,3.5,3.5,20]}}}}},
{"transform":[{"filter":"isValid(datum.g)"}],"mark":{"type":"point","shape":"circle","size":22,"filled":true,"color":"black","opacity":1},"encoding":{"x":{"field":"x","type":"quantitative"},"y":{"field":"y","type":"quantitative"}}},
{"data":{"values":[{}]},"mark":{"type":"text","text":"ATLAS","align":"left","baseline":"middle","fontStyle":"italic","fontWeight":"bold"},"encoding":{"x":{"datum":-1.309,"type":"quantitative"},"y":{"datum":3.5145,"type":"quantitative"}}},
{"data":{"values":[{}]},"mark":{"type":"text","text":"Preliminary","align":"left","baseline":"middle"},"encoding":{"x":{"datum":-0.41,"type":"quantitative"},"y":{"datum":3.5145,"type":"quantitative"}}},
{"data":{"values":[{}]},"mark":{"type":"text","text":"pp","align":"left","baseline":"middle"},"encoding":{"x":{"datum":-1.309,"type":"quantitative"},"y":{"datum":3.5,"type":"quantitative"}}},
{"data":{"values":[{}]},"mark":{"type":"text","text":"√s=5.02 TeV","align":"left","baseline":"middle"},"encoding":{"x":{"datum":-0.911,"type":"quantitative"},"y":{"datum":3.5,"type":"quantitative"}}},
{"data":{"values":[{}]},"mark":{"type":"text","text":"60≤N","align":"left","baseline":"middle"},"encoding":{"x":{"datum":-1.309,"type":"quantitative"},"y":{"datum":3.4812,"type":"quantitative"}}},
{"data":{"values":[{}]},"mark":{"type":"text","text":"rec","align":"left","baseline":"middle","fontSize":6.5,"dy":-4},"encoding":{"x":{"datum":-0.66,"type":"quantitative"},"y":{"datum":3.4812,"type":"quantitative"}}},
{"data":{"values":[{}]},"mark":{"type":"text","text":"ch","align":"left","baseline":"middle","fontSize":6.5,"dy":4},"encoding":{"x":{"datum":-0.66,"type":"quantitative"},"y":{"datum":3.4812,"type":"quantitative"}}},
{"data":{"values":[{}]},"mark":{"type":"text","text":"<70","align":"left","baseline":"middle"},"encoding":{"x":{"datum":-0.46,"type":"quantitative"},"y":{"datum":3.4812,"type":"quantitative"}}}
]}],
"resolve":{"axis":{"x":"independent","y":"independent"}}},

{"width":276,"height":205,"data":{"name":"BL"},
"layer":[
{"transform":[{"filter":"isValid(datum.r)"}],"mark":{"type":"line","interpolate":"monotone","stroke":"#3535e0","strokeWidth":1.2,"strokeDash":[4,3],"clip":true},
"encoding":{"x":{"field":"x","type":"quantitative","scale":{"domain":[-1.5708,4.7124],"nice":false,"zero":false},"axis":{"orient":"top","labels":false,"title":null,"offset":-7,"tickCount":200,"labelOverlap":false,"values":[-1.4,-1.2,-1,-0.8,-0.6,-0.4,-0.2,0,0.2,0.4,0.6,0.8,1,1.2,1.4,1.6,1.8,2,2.2,2.4,2.6,2.8,3,3.2,3.4,3.6,3.8,4,4.2,4.4,4.6],"tickDash":{"condition":{"test":"abs(datum.value-round(datum.value))<0.001","value":[7,0]},"value":[0,3.5,3.5,20]}}},
"y":{"field":"r","type":"quantitative","scale":{"domain":[7.0525,7.401],"nice":false,"zero":false},"axis":{"orient":"right","labels":false,"title":null,"offset":-7,"tickCount":200,"labelOverlap":false,"values":[7.06,7.07,7.08,7.09,7.1,7.11,7.12,7.13,7.14,7.15,7.16,7.17,7.18,7.19,7.2,7.21,7.22,7.23,7.24,7.25,7.26,7.27,7.28,7.29,7.3,7.31,7.32,7.33,7.34,7.35,7.36,7.37,7.38,7.39,7.4],"tickDash":{"condition":{"test":"abs(datum.value*20-round(datum.value*20))<0.01","value":[7,0]},"value":[0,3.5,3.5,20]}}}}},
{"layer":[
{"data":{"values":[{}]},"mark":{"type":"rule","stroke":"#f5a300","strokeWidth":1.2,"strokeDash":[2,2]},"encoding":{"y":{"datum":7.1115,"type":"quantitative"}}},
{"transform":[{"filter":"isValid(datum.g)"}],"mark":{"type":"tick","orient":"horizontal","size":7.6,"thickness":1,"color":"black"},"encoding":{"x":{"field":"x","type":"quantitative"},"y":{"field":"g","type":"quantitative"}}},
{"transform":[{"filter":"isValid(datum.g)"}],"mark":{"type":"point","shape":"circle","size":26,"filled":true,"fill":"white","stroke":"black","strokeWidth":1,"opacity":1},"encoding":{"x":{"field":"x","type":"quantitative"},"y":{"field":"g","type":"quantitative"}}},
{"transform":[{"filter":"isValid(datum.y)"}],"mark":{"type":"line","interpolate":"step","stroke":"#ee3333","strokeWidth":1.5,"clip":true},
"encoding":{"x":{"field":"x","type":"quantitative","axis":{"orient":"bottom","title":"Δφ","titleAnchor":"end","titlePadding":9,"offset":-7,"tickCount":200,"labelOverlap":false,"values":[-1.4,-1.2,-1,-0.8,-0.6,-0.4,-0.2,0,0.2,0.4,0.6,0.8,1,1.2,1.4,1.6,1.8,2,2.2,2.4,2.6,2.8,3,3.2,3.4,3.6,3.8,4,4.2,4.4,4.6],"labelExpr":"abs(datum.value-round(datum.value))<0.001?''+datum.value:''","tickDash":{"condition":{"test":"abs(datum.value-round(datum.value))<0.001","value":[7,0]},"value":[0,3.5,3.5,20]}}},
"y":{"field":"y","type":"quantitative","axis":{"orient":"left","title":"Y(Δφ)","titleAnchor":"end","titlePadding":5,"minExtent":33,"maxExtent":33,"offset":-7,"tickCount":200,"labelOverlap":false,"values":[7.06,7.07,7.08,7.09,7.1,7.11,7.12,7.13,7.14,7.15,7.16,7.17,7.18,7.19,7.2,7.21,7.22,7.23,7.24,7.25,7.26,7.27,7.28,7.29,7.3,7.31,7.32,7.33,7.34,7.35,7.36,7.37,7.38,7.39,7.4],"labelExpr":"abs(datum.value*20-round(datum.value*20))<0.01?''+datum.value:''","tickDash":{"condition":{"test":"abs(datum.value*20-round(datum.value*20))<0.01","value":[7,0]},"value":[0,3.5,3.5,20]}}}}},
{"transform":[{"filter":"isValid(datum.g)"}],"mark":{"type":"point","shape":"circle","size":22,"filled":true,"color":"black","opacity":1},"encoding":{"x":{"field":"x","type":"quantitative"},"y":{"field":"y","type":"quantitative"}}},
{"data":{"values":[{}]},"mark":{"type":"text","text":"ATLAS","align":"left","baseline":"middle","fontStyle":"italic","fontWeight":"bold"},"encoding":{"x":{"datum":-1.309,"type":"quantitative"},"y":{"datum":7.3785,"type":"quantitative"}}},
{"data":{"values":[{}]},"mark":{"type":"text","text":"Preliminary","align":"left","baseline":"middle"},"encoding":{"x":{"datum":-0.41,"type":"quantitative"},"y":{"datum":7.3785,"type":"quantitative"}}},
{"data":{"values":[{}]},"mark":{"type":"text","text":"pp","align":"left","baseline":"middle"},"encoding":{"x":{"datum":-1.309,"type":"quantitative"},"y":{"datum":7.3561,"type":"quantitative"}}},
{"data":{"values":[{}]},"mark":{"type":"text","text":"√s=13 TeV","align":"left","baseline":"middle"},"encoding":{"x":{"datum":-0.911,"type":"quantitative"},"y":{"datum":7.3561,"type":"quantitative"}}},
{"data":{"values":[{}]},"mark":{"type":"text","text":"N","align":"left","baseline":"middle"},"encoding":{"x":{"datum":-1.309,"type":"quantitative"},"y":{"datum":7.3291,"type":"quantitative"}}},
{"data":{"values":[{}]},"mark":{"type":"text","text":"rec","align":"left","baseline":"middle","fontSize":6.5,"dy":-4},"encoding":{"x":{"datum":-1.1155,"type":"quantitative"},"y":{"datum":7.3291,"type":"quantitative"}}},
{"data":{"values":[{}]},"mark":{"type":"text","text":"ch","align":"left","baseline":"middle","fontSize":6.5,"dy":4},"encoding":{"x":{"datum":-1.1155,"type":"quantitative"},"y":{"datum":7.3291,"type":"quantitative"}}},
{"data":{"values":[{}]},"mark":{"type":"text","text":"≥120","align":"left","baseline":"middle"},"encoding":{"x":{"datum":-0.888,"type":"quantitative"},"y":{"datum":7.3291,"type":"quantitative"}}}
]}],
"resolve":{"axis":{"x":"independent","y":"independent"}}},

{"width":276,"height":205,"data":{"name":"BR"},
"layer":[
{"transform":[{"filter":"isValid(datum.r)"}],"mark":{"type":"line","interpolate":"monotone","stroke":"#3535e0","strokeWidth":1.2,"strokeDash":[4,3],"clip":true},
"encoding":{"x":{"field":"x","type":"quantitative","scale":{"domain":[-1.5708,4.7124],"nice":false,"zero":false},"axis":{"orient":"top","labels":false,"title":null,"offset":-7,"tickCount":200,"labelOverlap":false,"values":[-1.4,-1.2,-1,-0.8,-0.6,-0.4,-0.2,0,0.2,0.4,0.6,0.8,1,1.2,1.4,1.6,1.8,2,2.2,2.4,2.6,2.8,3,3.2,3.4,3.6,3.8,4,4.2,4.4,4.6],"tickDash":{"condition":{"test":"abs(datum.value-round(datum.value))<0.001","value":[7,0]},"value":[0,3.5,3.5,20]}}},
"y":{"field":"r","type":"quantitative","scale":{"domain":[4.8431,5.1435],"nice":false,"zero":false},"axis":{"orient":"right","labels":false,"title":null,"offset":-7,"tickCount":200,"labelOverlap":false,"values":[4.85,4.86,4.87,4.88,4.89,4.9,4.91,4.92,4.93,4.94,4.95,4.96,4.97,4.98,4.99,5,5.01,5.02,5.03,5.04,5.05,5.06,5.07,5.08,5.09,5.1,5.11,5.12,5.13,5.14],"tickDash":{"condition":{"test":"abs(datum.value*20-round(datum.value*20))<0.01","value":[7,0]},"value":[0,3.5,3.5,20]}}}}},
{"layer":[
{"data":{"values":[{}]},"mark":{"type":"rule","stroke":"#f5a300","strokeWidth":1.2,"strokeDash":[2,2]},"encoding":{"y":{"datum":4.88,"type":"quantitative"}}},
{"transform":[{"filter":"isValid(datum.g)"}],"mark":{"type":"tick","orient":"horizontal","size":7.6,"thickness":1,"color":"black"},"encoding":{"x":{"field":"x","type":"quantitative"},"y":{"field":"g","type":"quantitative"}}},
{"transform":[{"filter":"isValid(datum.g)"}],"mark":{"type":"point","shape":"circle","size":26,"filled":true,"fill":"white","stroke":"black","strokeWidth":1,"opacity":1},"encoding":{"x":{"field":"x","type":"quantitative"},"y":{"field":"g","type":"quantitative"}}},
{"transform":[{"filter":"isValid(datum.y)"}],"mark":{"type":"line","interpolate":"step","stroke":"#ee3333","strokeWidth":1.5,"clip":true},
"encoding":{"x":{"field":"x","type":"quantitative","axis":{"orient":"bottom","title":"Δφ","titleAnchor":"end","titlePadding":9,"offset":-7,"tickCount":200,"labelOverlap":false,"values":[-1.4,-1.2,-1,-0.8,-0.6,-0.4,-0.2,0,0.2,0.4,0.6,0.8,1,1.2,1.4,1.6,1.8,2,2.2,2.4,2.6,2.8,3,3.2,3.4,3.6,3.8,4,4.2,4.4,4.6],"labelExpr":"abs(datum.value-round(datum.value))<0.001?''+datum.value:''","tickDash":{"condition":{"test":"abs(datum.value-round(datum.value))<0.001","value":[7,0]},"value":[0,3.5,3.5,20]}}},
"y":{"field":"y","type":"quantitative","axis":{"orient":"left","title":"Y(Δφ)","titleAnchor":"end","titlePadding":5,"minExtent":33,"maxExtent":33,"offset":-7,"tickCount":200,"labelOverlap":false,"values":[4.85,4.86,4.87,4.88,4.89,4.9,4.91,4.92,4.93,4.94,4.95,4.96,4.97,4.98,4.99,5,5.01,5.02,5.03,5.04,5.05,5.06,5.07,5.08,5.09,5.1,5.11,5.12,5.13,5.14],"labelExpr":"abs(datum.value*20-round(datum.value*20))<0.01?''+datum.value:''","tickDash":{"condition":{"test":"abs(datum.value*20-round(datum.value*20))<0.01","value":[7,0]},"value":[0,3.5,3.5,20]}}}}},
{"transform":[{"filter":"isValid(datum.g)"}],"mark":{"type":"point","shape":"circle","size":22,"filled":true,"color":"black","opacity":1},"encoding":{"x":{"field":"x","type":"quantitative"},"y":{"field":"y","type":"quantitative"}}},
{"data":{"values":[{}]},"mark":{"type":"text","text":"ATLAS","align":"left","baseline":"middle","fontStyle":"italic","fontWeight":"bold"},"encoding":{"x":{"datum":-1.309,"type":"quantitative"},"y":{"datum":5.1259,"type":"quantitative"}}},
{"data":{"values":[{}]},"mark":{"type":"text","text":"Preliminary","align":"left","baseline":"middle"},"encoding":{"x":{"datum":-0.41,"type":"quantitative"},"y":{"datum":5.1259,"type":"quantitative"}}},
{"data":{"values":[{}]},"mark":{"type":"text","text":"pp","align":"left","baseline":"middle"},"encoding":{"x":{"datum":-1.309,"type":"quantitative"},"y":{"datum":5.1064,"type":"quantitative"}}},
{"data":{"values":[{}]},"mark":{"type":"text","text":"√s=5.02 TeV","align":"left","baseline":"middle"},"encoding":{"x":{"datum":-0.911,"type":"quantitative"},"y":{"datum":5.1064,"type":"quantitative"}}},
{"data":{"values":[{}]},"mark":{"type":"text","text":"90≤N","align":"left","baseline":"middle"},"encoding":{"x":{"datum":-1.309,"type":"quantitative"},"y":{"datum":5.083,"type":"quantitative"}}},
{"data":{"values":[{}]},"mark":{"type":"text","text":"rec","align":"left","baseline":"middle","fontSize":6.5,"dy":-4},"encoding":{"x":{"datum":-0.66,"type":"quantitative"},"y":{"datum":5.083,"type":"quantitative"}}},
{"data":{"values":[{}]},"mark":{"type":"text","text":"ch","align":"left","baseline":"middle","fontSize":6.5,"dy":4},"encoding":{"x":{"datum":-0.66,"type":"quantitative"},"y":{"datum":5.083,"type":"quantitative"}}},
{"data":{"values":[{}]},"mark":{"type":"text","text":"<100","align":"left","baseline":"middle"},"encoding":{"x":{"datum":-0.46,"type":"quantitative"},"y":{"datum":5.083,"type":"quantitative"}}}
]}],
"resolve":{"axis":{"x":"independent","y":"independent"}}}
]
}
